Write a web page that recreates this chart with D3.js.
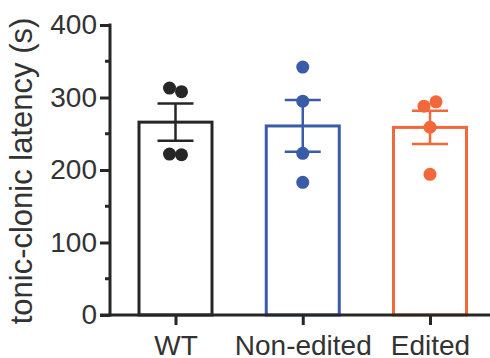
<!DOCTYPE html>
<html>
<head>
<meta charset="utf-8">
<script src="https://cdn.jsdelivr.net/npm/d3@7"></script>
<style>
  body { margin: 0; background: #fff; }
  text { font-family: "Liberation Sans", Arial, sans-serif; fill: #333; }
</style>
</head>
<body>
<div id="chart"></div>
<script>
// values (seconds)
const groups = ["WT", "Non-edited", "Edited"];
const wtValues = [313, 308, 222, 221];
const nonEditedValues = [342, 295, 223, 183];
const editedValues = [288, 294, 259, 194];
const colors = ["#262626", "#3a5ba8", "#f2683a"];
const yTicks = [0, 100, 200, 300, 400];
const yMinorTicks = [50, 150, 250, 350];

const width = 490,
  height = 358,
  margin = { top: 25, right: 0, bottom: 43, left: 110 };

const svg = d3
  .select("#chart")
  .append("svg")
  .attr("width", width)
  .attr("height", height);

const x = d3
  .scalePoint()
  .domain(groups)
  .range([175.5, 430]);

const y = d3
  .scaleLinear()
  .domain([0, 400])
  .range([height - margin.bottom, margin.top]);

const data = [wtValues, nonEditedValues, editedValues].map((vals, i) => {
  const mean = d3.mean(vals);
  const sem = d3.deviation(vals) / Math.sqrt(vals.length);
  return { group: groups[i], vals, mean, sem, color: colors[i] };
});

const barWidth = 73,
  r = 6.5,
  capWidth = 36;

// y axis
const yAxis = svg
  .append("g")
  .attr("transform", `translate(${margin.left},0)`)
  .call(d3.axisLeft(y).tickValues(yTicks).tickSize(10).tickPadding(3));
yAxis.select(".domain").remove();
yAxis.selectAll("line").attr("stroke", "#262626").attr("stroke-width", 3);
yAxis.selectAll("text").style("font-size", "28px").attr("fill", "#333");

svg
  .append("g")
  .selectAll("line")
  .data(yMinorTicks)
  .join("line")
  .attr("x1", margin.left - 5)
  .attr("x2", margin.left)
  .attr("y1", (d) => y(d))
  .attr("y2", (d) => y(d))
  .attr("stroke", "#262626")
  .attr("stroke-width", 3);

svg
  .append("line")
  .attr("x1", margin.left)
  .attr("x2", margin.left)
  .attr("y1", y(400) - 1.5)
  .attr("y2", y(0) + 1.5)
  .attr("stroke", "#262626")
  .attr("stroke-width", 3);

// bars
svg
  .append("g")
  .selectAll("rect")
  .data(data)
  .join("rect")
  .attr("x", (d) => x(d.group) - barWidth / 2)
  .attr("y", (d) => y(d.mean))
  .attr("width", barWidth)
  .attr("height", (d) => y(0) - y(d.mean))
  .attr("fill", "none")
  .attr("stroke", (d) => d.color)
  .attr("stroke-width", 3);

// x axis
const xAxis = svg
  .append("g")
  .attr("transform", `translate(0,${y(0)})`)
  .call(d3.axisBottom(x).tickSize(10).tickPadding(10));
xAxis.select(".domain").remove();
xAxis.selectAll("line").attr("stroke", "#262626").attr("stroke-width", 3);
xAxis.selectAll("text").style("font-size", "28px").attr("fill", "#333");

svg
  .append("line")
  .attr("x1", margin.left - 10)
  .attr("x2", width)
  .attr("y1", y(0))
  .attr("y2", y(0))
  .attr("stroke", "#262626")
  .attr("stroke-width", 3);

// error bars
const err = svg
  .append("g")
  .selectAll("g")
  .data(data)
  .join("g")
  .attr("stroke", (d) => d.color)
  .attr("stroke-width", 2.5);

err
  .append("line")
  .attr("x1", (d) => x(d.group))
  .attr("x2", (d) => x(d.group))
  .attr("y1", (d) => y(d.mean + d.sem))
  .attr("y2", (d) => y(d.mean - d.sem));

for (const k of [1, -1]) {
  err
    .append("line")
    .attr("x1", (d) => x(d.group) - capWidth / 2)
    .attr("x2", (d) => x(d.group) + capWidth / 2)
    .attr("y1", (d) => y(d.mean + k * d.sem))
    .attr("y2", (d) => y(d.mean + k * d.sem));
}

// points, spread sideways when they overlap
const points = [];
data.forEach((d) => {
  const clusters = [];
  d.vals.forEach((v, i) => {
    let c = clusters.find((cl) =>
      cl.some((p) => Math.abs(y(p.v) - y(v)) < 2 * r)
    );
    if (!c) {
      c = [];
      clusters.push(c);
    }
    c.push({ v, i });
  });
  clusters.forEach((cl) => {
    cl.forEach((p, j) => {
      points.push({
        cx: x(d.group) + (j - (cl.length - 1) / 2) * 12,
        cy: y(p.v),
        color: d.color,
      });
    });
  });
});

svg
  .append("g")
  .selectAll("circle")
  .data(points)
  .join("circle")
  .attr("cx", (d) => d.cx)
  .attr("cy", (d) => d.cy)
  .attr("r", r)
  .attr("fill", (d) => d.color);

// y label
svg
  .append("text")
  .attr("transform", `translate(32,171) rotate(-90)`)
  .attr("text-anchor", "middle")
  .style("font-size", "31px")
  .text("tonic-clonic latency (s)");
</script>
</body>
</html>
